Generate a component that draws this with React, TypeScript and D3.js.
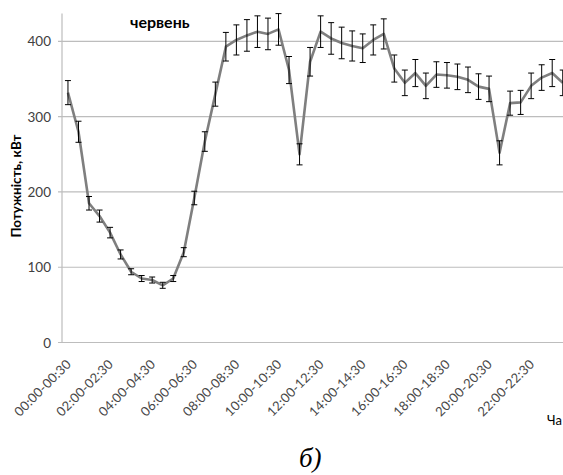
import React from 'react';
import * as d3 from 'd3';

// half-hour intervals of the day
const slots = [
  '00:00-00:30', '00:30-01:00', '01:00-01:30', '01:30-02:00',
  '02:00-02:30', '02:30-03:00', '03:00-03:30', '03:30-04:00',
  '04:00-04:30', '04:30-05:00', '05:00-05:30', '05:30-06:00',
  '06:00-06:30', '06:30-07:00', '07:00-07:30', '07:30-08:00',
  '08:00-08:30', '08:30-09:00', '09:00-09:30', '09:30-10:00',
  '10:00-10:30', '10:30-11:00', '11:00-11:30', '11:30-12:00',
  '12:00-12:30', '12:30-13:00', '13:00-13:30', '13:30-14:00',
  '14:00-14:30', '14:30-15:00', '15:00-15:30', '15:30-16:00',
  '16:00-16:30', '16:30-17:00', '17:00-17:30', '17:30-18:00',
  '18:00-18:30', '18:30-19:00', '19:00-19:30', '19:30-20:00',
  '20:00-20:30', '20:30-21:00', '21:00-21:30', '21:30-22:00',
  '22:00-22:30', '22:30-23:00', '23:00-23:30', '23:30-24:00',
];

// mean power, kW
const power = [
  332, 280, 185, 168, 146, 117, 94, 85, 83, 76, 85, 120,
  192, 267, 330, 393, 402, 408, 413, 410, 416, 362, 250, 373,
  413, 404, 398, 394, 391, 402, 410, 364, 345, 358, 341, 356,
  355, 353, 349, 340, 337, 252, 318, 319, 341, 352, 358, 345,
];

// error bar half-height, kW
const spread = [
  16, 14, 9, 8, 7, 6, 4, 4, 4, 4, 4, 6,
  9, 13, 16, 19, 20, 21, 21, 21, 21, 18, 14, 19,
  21, 21, 21, 20, 19, 20, 20, 18, 17, 18, 17, 17,
  17, 17, 17, 17, 17, 16, 16, 16, 17, 17, 18, 17,
];

const yTicks = [0, 100, 200, 300, 400];

const W = 563;
const H = 475;
const font = 'Lato, "Open Sans", sans-serif';

export default function App() {
  const x = d3.scalePoint<string>().domain(slots).range([62.7, 568]).padding(0.5);
  const y = d3.scaleLinear().domain([0, 437]).range([342.5, 13.6]);

  const line = d3.line<number>()
    .x((_, i) => x(slots[i]) as number)
    .y((d) => y(d));

  const axisX = 62;

  return (
    <svg width={W} height={H} style={{ position: 'absolute', left: 0, top: 0, background: '#fff' }}>
      {/* grid lines */}
      {yTicks.map((t) => (
        <g key={t}>
          <line x1={axisX - 4} x2={W} y1={y(t)} y2={y(t)} stroke="#bdbdbd" strokeWidth={1.2} />
          <text x={51} y={y(t) + 5} textAnchor="end" fontFamily={font} fontSize={13.5} fill="#404040">{t}</text>
        </g>
      ))}
      <line x1={axisX} x2={axisX} y1={y(437)} y2={y(0)} stroke="#bdbdbd" strokeWidth={1.2} />

      {/* series */}
      <path d={line(power) ?? ''} fill="none" stroke="#7f7f7f" strokeWidth={2.6} strokeLinejoin="round" />

      {/* error bars */}
      {power.map((v, i) => {
        const cx = x(slots[i]) as number;
        const top = y(v + spread[i]);
        const bot = y(v - spread[i]);
        return (
          <g key={i} stroke="#000" strokeWidth={1}>
            <line x1={cx} x2={cx} y1={top} y2={bot} />
            <line x1={cx - 3} x2={cx + 3} y1={top} y2={top} />
            <line x1={cx - 3} x2={cx + 3} y1={bot} y2={bot} />
          </g>
        );
      })}

      {/* category labels */}
      {slots.filter((_, i) => i % 4 === 0).map((s) => {
        const cx = x(s) as number;
        return (
          <text key={s} transform={`translate(${cx + 4},${365}) rotate(-45)`} textAnchor="end"
            fontFamily={font} fontSize={13} letterSpacing={0.2} fill="#484848">{s}</text>
        );
      })}

      <text x={130} y={28} fontFamily={font} fontSize={16} fontWeight="bold" fill="#000">червень</text>
      <text transform={`translate(21,186) rotate(-90)`} textAnchor="middle" fontFamily={font}
        fontSize={13.5} fontWeight="bold" fill="#000">Потужність, кВт</text>
      <text x={547} y={425} fontFamily={font} fontSize={13} fill="#000">Ча</text>
      <text x={299} y={467} fontFamily='"Liberation Serif", "DejaVu Serif", serif' fontSize={27}
        fontStyle="italic" fill="#000">б)</text>
    </svg>
  );
}
